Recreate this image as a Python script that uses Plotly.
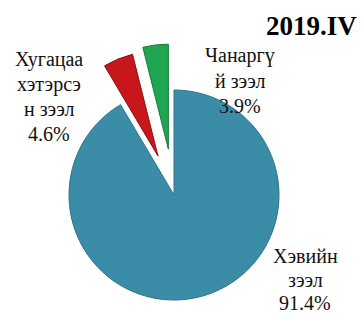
import math
import plotly.graph_objects as go

# ---- data ----
categories = ["Хэвийн зээл", "Хугацаа хэтэрсэн зээл", "Чанаргүй зээл"]
values = [91.4, 4.6, 3.9]
label_lines = [["Хэвийн", "зээл", "91.4%"],
               ["Хугацаа", "хэтэрсэ", "н зээл", "4.6%"],
               ["Чанаргү", "й зээл", "3.9%"]]
title_text = "2019.IV"

# ---- style ----
colors = ["#3b8da7", "#c8171c", "#1fa650"]
edge_colors = ["#2d7289", "#8e0f12", "#157a3a"]
pulls = [0.0, 0.40, 0.44]   # explode fraction of radius for each slice

W, H = 362, 314
cx, cy, r = 174, 195, 105   # pie centre (px from top-left) and radius

total = sum(values)
fig = go.Figure()
cum = 0.0
for i, v in enumerate(values):
    frac_mid = (cum + v / 2) / total
    cum += v
    ang = 2 * math.pi * frac_mid          # clockwise from 12 o'clock
    px = cx + math.sin(ang) * pulls[i] * r
    py = cy - math.cos(ang) * pulls[i] * r
    dom_x = [(px - r) / W, (px + r) / W]
    dom_y = [(H - py - r) / H, (H - py + r) / H]
    cols = ["rgba(0,0,0,0)"] * len(values)
    cols[i] = colors[i]
    lw = [0] * len(values)
    lw[i] = 1
    lc = ["rgba(0,0,0,0)"] * len(values)
    lc[i] = edge_colors[i]
    fig.add_trace(go.Pie(
        labels=categories, values=values, sort=False, direction="clockwise",
        rotation=0, textinfo="none", hoverinfo="skip", showlegend=False,
        marker=dict(colors=cols, line=dict(color=lc, width=lw)),
        domain=dict(x=dom_x, y=dom_y),
    ))

serif = "Liberation Serif, Times New Roman, serif"
font = dict(family=serif, size=20, color="#111111")
# label anchor positions: (centre x, first line centre y, line spacing) in px
label_pos = [(305, 256, 23.5), (49, 60, 24.6), (240, 56, 25)]
for lines, (lx, ly, sp) in zip(label_lines, label_pos):
    for k, t in enumerate(lines):
        fig.add_annotation(text=t, x=lx / W, y=1 - (ly + k * sp) / H,
                           xref="paper", yref="paper", xanchor="center", yanchor="middle",
                           showarrow=False, font=font)
fig.add_annotation(text="<b>" + title_text + "</b>", x=359 / W, y=1 - 26 / H,
                   xref="paper", yref="paper", xanchor="right", yanchor="middle",
                   showarrow=False, font=dict(family=serif, size=27, color="#000000"))

fig.update_layout(width=W, height=H, margin=dict(l=0, r=0, t=0, b=0),
                  paper_bgcolor="white", plot_bgcolor="white")
fig.write_html("out.html", config={"displayModeBar": False},
               post_script="document.body.style.margin='0';")
